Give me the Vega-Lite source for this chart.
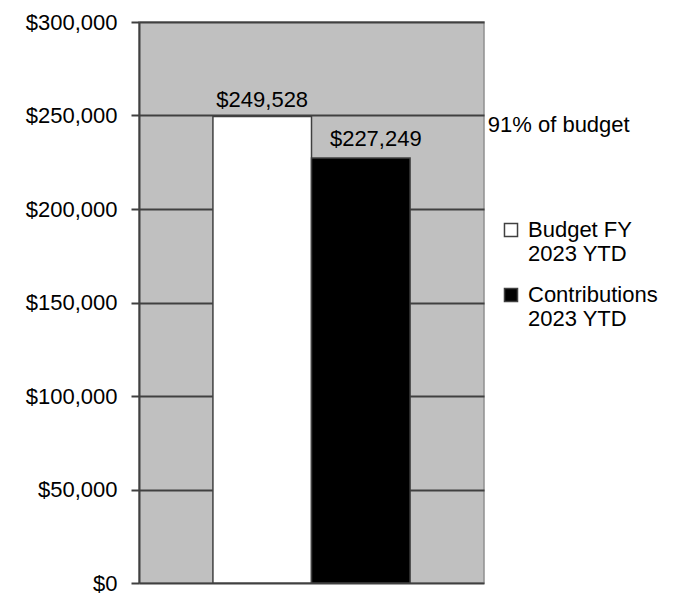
{
  "$schema": "https://vega.github.io/schema/vega-lite/v6.json",
  "width": 345,
  "height": 561,
  "autosize": {"type": "none"},
  "padding": {"left": 139, "top": 22, "right": 204, "bottom": 11},
  "background": "white",
  "config": {
    "font": "Liberation Sans",
    "view": {"fill": "#C0C0C0", "stroke": "#909090", "strokeWidth": 1.5}
  },
  "data": {
    "values": [
      {"series": "Budget FY 2023 YTD", "amount": 249528, "label": "$249,528"},
      {"series": "Contributions 2023 YTD", "amount": 227249, "label": "$227,249"}
    ]
  },
  "layer": [
    {
      "mark": {"type": "bar", "stroke": "#404040", "strokeWidth": 1.5},
      "encoding": {
        "x": {
          "field": "series",
          "type": "nominal",
          "scale": {"paddingInner": 0, "paddingOuter": 0.75},
          "axis": null
        },
        "y": {
          "field": "amount",
          "type": "quantitative",
          "scale": {"domain": [0, 300000], "nice": false},
          "axis": {
            "values": [0, 50000, 100000, 150000, 200000, 250000, 300000],
            "format": "$,.0f",
            "title": null,
            "labelFontSize": 22,
            "labelColor": "#000000",
            "labelPadding": 14,
            "tickColor": "#404040",
            "tickSize": 8,
            "tickWidth": 2,
            "domainColor": "#404040",
            "domainWidth": 2,
            "gridColor": "#404040",
            "gridWidth": 2
          }
        },
        "color": {
          "field": "series",
          "type": "nominal",
          "scale": {
            "domain": ["Budget FY 2023 YTD", "Contributions 2023 YTD"],
            "range": ["#FFFFFF", "#000000"]
          },
          "legend": {
            "orient": "none",
            "legendX": 361,
            "legendY": 197,
            "title": null,
            "symbolType": "square",
            "symbolSize": 170,
            "symbolStrokeColor": "#404040",
            "symbolStrokeWidth": 1.5,
            "labelFontSize": 22,
            "labelColor": "#000000",
            "labelLimit": 300,
            "labelOffset": 6,
            "rowPadding": 19,
            "labelExpr": "datum.label == 'Budget FY 2023 YTD' ? ['Budget FY', '2023 YTD'] : ['Contributions', '2023 YTD']"
          }
        }
      }
    },
    {
      "transform": [{"filter": "datum.series == 'Budget FY 2023 YTD'"}],
      "mark": {"type": "text", "baseline": "bottom", "dy": -4, "fontSize": 22, "color": "#000000"},
      "encoding": {
        "x": {"field": "series", "type": "nominal"},
        "y": {"field": "amount", "type": "quantitative"},
        "text": {"field": "label"}
      }
    },
    {
      "transform": [{"filter": "datum.series == 'Contributions 2023 YTD'"}],
      "mark": {"type": "text", "baseline": "bottom", "dx": 15, "dy": -7, "fontSize": 22, "color": "#000000"},
      "encoding": {
        "x": {"field": "series", "type": "nominal"},
        "y": {"field": "amount", "type": "quantitative"},
        "text": {"field": "label"}
      }
    },
    {
      "data": {"values": [{"note": "91% of budget", "level": 250000}]},
      "mark": {"type": "text", "align": "left", "baseline": "top", "dx": 127, "dy": -1, "fontSize": 22, "color": "#000000"},
      "encoding": {
        "x": {"datum": "Contributions 2023 YTD"},
        "y": {"field": "level", "type": "quantitative"},
        "text": {"field": "note"}
      }
    }
  ]
}
